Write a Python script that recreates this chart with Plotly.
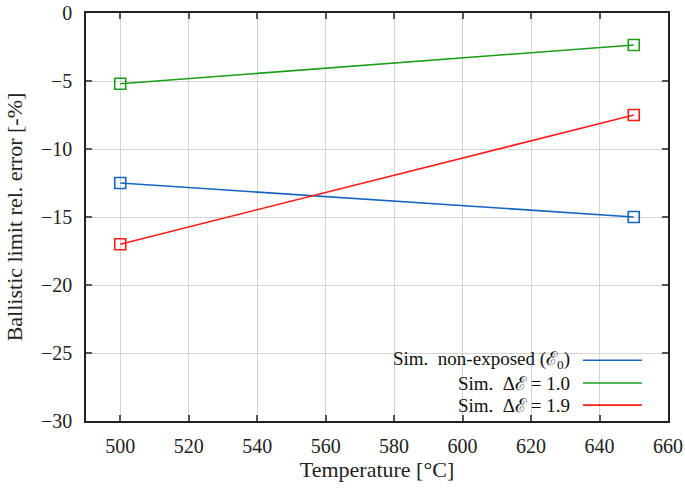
import plotly.graph_objects as go

temperature = [500, 650]
sim_non_exposed = [-12.5, -15.0]
sim_de_10 = [-5.2, -2.35]
sim_de_19 = [-17.0, -7.5]

series_names = ["Sim.&nbsp; non-exposed (ℰ<sub>0</sub>)", "Sim.&nbsp; Δℰ = 1.0", "Sim.&nbsp; Δℰ = 1.9"]
series_values = [sim_non_exposed, sim_de_10, sim_de_19]
series_colors = ["#1565c0", "#1a9e1a", "#ff1a1a"]

x_ticks = [500, 520, 540, 560, 580, 600, 620, 640, 660]
y_ticks = [0, -5, -10, -15, -20, -25, -30]
y_tick_labels = ["0", "−5", "−10", "−15", "−20", "−25", "−30"]

FONT = "Liberation Serif"

fig = go.Figure()
for name, vals, col in zip(series_names, series_values, series_colors):
    fig.add_trace(go.Scatter(
        x=temperature, y=vals, mode="lines+markers", name=name,
        line=dict(color=col, width=1.6),
        marker=dict(symbol="square-open", size=11, color=col, line=dict(width=1.6)),
        showlegend=False,
    ))

axis_common = dict(
    showgrid=True, gridcolor="#d4d4d4", gridwidth=1,
    showline=True, linecolor="#222", linewidth=1.5, mirror="allticks",
    ticks="inside", ticklen=6, tickcolor="#555", tickwidth=1.5,
    zeroline=False, automargin=False,
    tickfont=dict(family=FONT, size=20, color="#222"),
)

fig.update_layout(
    width=685, height=488,
    margin=dict(l=86, r=17, t=13, b=67),
    plot_bgcolor="white", paper_bgcolor="white",
    xaxis=dict(range=[490, 660], tickvals=x_ticks, ticklabelstandoff=6,
               title=dict(text="Temperature [°C]", font=dict(family=FONT, size=22, color="#222"), standoff=6),
               **axis_common),
    yaxis=dict(range=[-30, 0], tickvals=y_ticks, ticktext=y_tick_labels, ticklabelstandoff=8,
               title=dict(text="Ballistic limit rel. error [-%]", font=dict(family=FONT, size=22, color="#222"), standoff=12),
               **axis_common),
)

# custom gnuplot-style legend (text right-aligned, sample line on right)
fig.add_shape(type="rect", xref="paper", yref="paper", x0=0.337, x1=0.979, y0=0.02, y1=0.186,
              fillcolor="white", line=dict(width=0), layer="between")
legend_y = [0.149, 0.093, 0.039]
for name, col, ly in zip(series_names, series_colors, legend_y):
    fig.add_annotation(xref="paper", yref="paper", x=0.835, y=ly, text=name, showarrow=False,
                       xanchor="right", yanchor="middle",
                       font=dict(family=FONT, size=19, color="#111"))
    fig.add_shape(type="line", xref="paper", yref="paper", x0=0.854, x1=0.955, y0=ly, y1=ly,
                  line=dict(color=col, width=1.6), layer="above")

fig.write_html("out.html", config={"displayModeBar": False},
               post_script="document.body.style.margin='0';document.body.style.overflow='hidden';")
